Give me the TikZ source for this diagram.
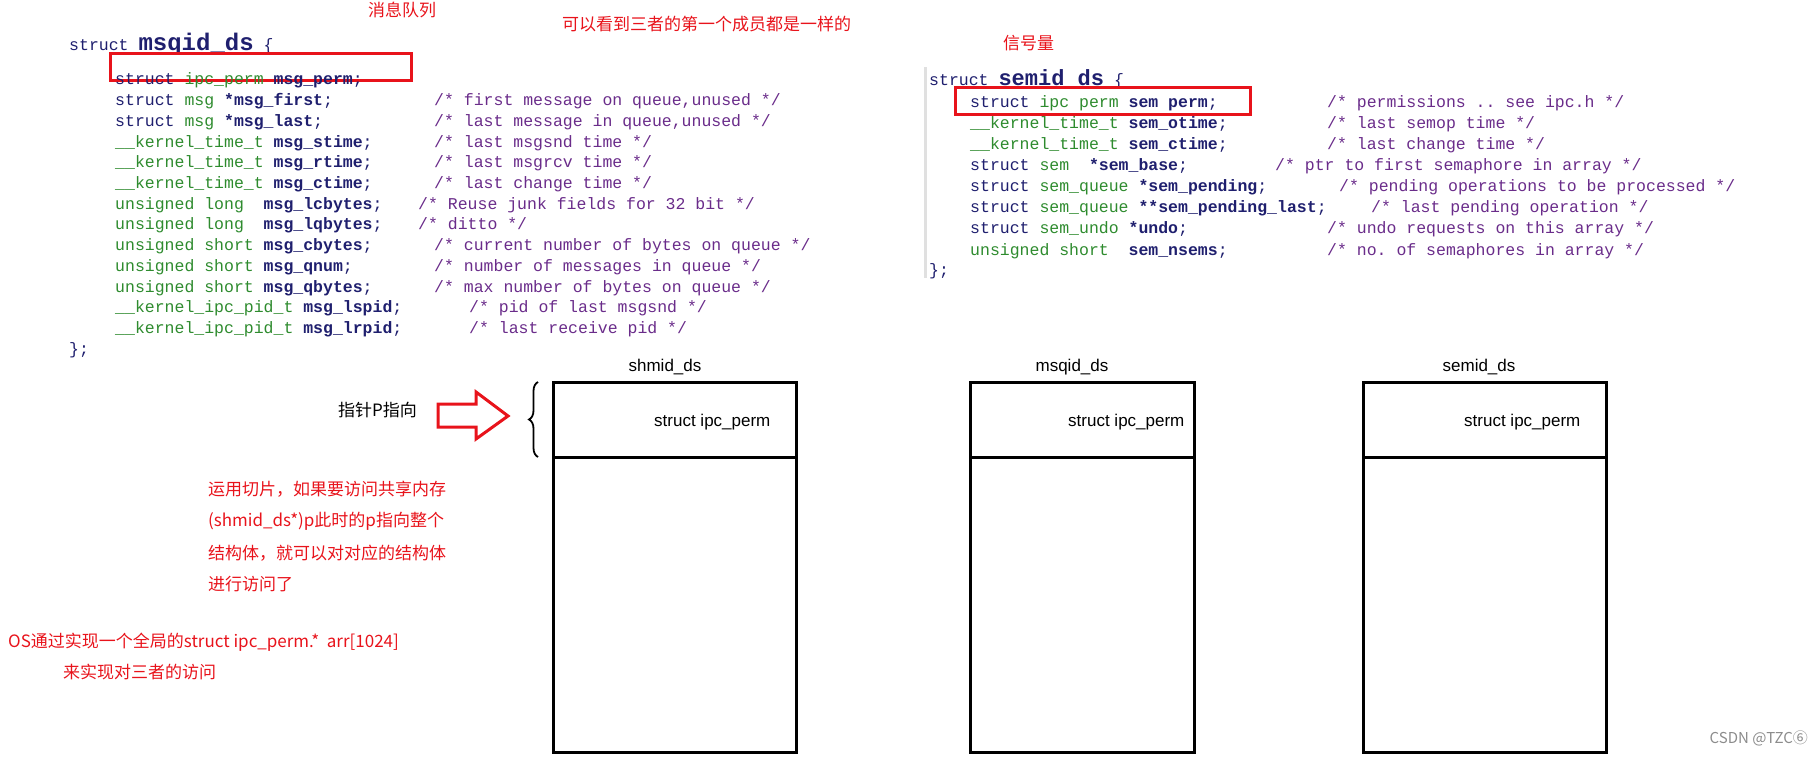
\documentclass[tikz,border=0pt]{standalone}
\usepackage{fontspec}
\setmainfont{Liberation Sans}
\setmonofont{Liberation Mono}
\newfontfamily\cjk{Noto Sans CJK SC}
\usetikzlibrary{decorations.pathreplacing}
\definecolor{kw}{HTML}{1F1F6E}
\definecolor{ty}{HTML}{2E8B2E}
\definecolor{cm}{HTML}{6A2C8A}
\definecolor{rd}{HTML}{E8131B}
\newcommand\K[1]{\textcolor{kw}{#1}}
\newcommand\T[1]{\textcolor{ty}{#1}}
\newcommand\N[1]{\textcolor{kw}{\bfseries #1}}
\begin{document}
\begin{tikzpicture}[x=1pt,y=-1pt,
  code/.style={anchor=base west,inner sep=0pt,font=\ttfamily\fontsize{16.5}{18}\selectfont,text=kw},
  cmt/.style={code,text=cm},
  note/.style={anchor=west,inner sep=0pt,text=rd,font=\cjk\fontsize{17}{20}\selectfont},
  lbl/.style={inner sep=0pt,font=\fontsize{17}{20}\selectfont},
  box/.style={draw=black,line width=3pt},
  redbox/.style={draw=rd,line width=3pt}]
\useasboundingbox (0,0) rectangle (1814,759);
% titles
\node[note] (t1) at (368,10) {消息队列};
\node[note] (t2) at (562,24) {可以看到三者的第一个成员都是一样的};
\node[note] (t3) at (1003,43) {信号量};
% msqid_ds
\node[code] (mh) at (69,51) {\K{struct} {\fontsize{24}{26}\selectfont\bfseries msqid\_ds} \K{\{}};
\draw[redbox] (110,54) rectangle (411,81);
\foreach \i/\a/\c/\cx in {%
 0/{\K{struct} \T{ipc\_perm} \N{msg\_perm};}/{}/434,
 1/{\K{struct} \T{msg} \N{*msg\_first};}/{/* first message on queue,unused  */}/434,
 2/{\K{struct} \T{msg} \N{*msg\_last};}/{/* last message in queue,unused */}/434,
 3/{\T{\_\_kernel\_time\_t} \N{msg\_stime};}/{/* last msgsnd time */}/434,
 4/{\T{\_\_kernel\_time\_t} \N{msg\_rtime};}/{/* last msgrcv time */}/434,
 5/{\T{\_\_kernel\_time\_t} \N{msg\_ctime};}/{/* last change time */}/434,
 6/{\T{unsigned long}\ \ \N{msg\_lcbytes};}/{/* Reuse junk fields for 32 bit */}/418,
 7/{\T{unsigned long}\ \ \N{msg\_lqbytes};}/{/* ditto */}/418,
 8/{\T{unsigned short} \N{msg\_cbytes};}/{/* current number of bytes on queue */}/434,
 9/{\T{unsigned short} \N{msg\_qnum};}/{/* number of messages in queue */}/434,
 10/{\T{unsigned short} \N{msg\_qbytes};}/{/* max number of bytes on queue */}/434,
 11/{\T{\_\_kernel\_ipc\_pid\_t} \N{msg\_lspid};}/{/* pid of last msgsnd */}/469,
 12/{\T{\_\_kernel\_ipc\_pid\_t} \N{msg\_lrpid};}/{/* last receive pid */}/469}{
  \node[code] (ma\i) at (115,{85+20.7*\i}) {\a};
  \node[cmt] (mc\i) at (\cx,{85+20.7*\i}) {\c};
}
\node[code] (me) at (69,354) {\K{\};}};
% semid_ds
\fill[black!12] (924,67) rectangle (927,278);
\node[code] (sh) at (929,86) {\K{struct} {\fontsize{22}{24}\selectfont\bfseries semid ds} \K{\{}};
\draw[redbox] (955,88) rectangle (1250,115);
\foreach \i/\a/\c/\cx in {%
 0/{\K{struct} \T{ipc perm} \N{sem perm};}/{/* permissions .. see ipc.h */}/1327,
 1/{\T{\_\_kernel\_time\_t} \N{sem\_otime};}/{/* last semop time */}/1327,
 2/{\T{\_\_kernel\_time\_t} \N{sem\_ctime};}/{/* last change time */}/1327,
 3/{\K{struct} \T{sem}\ \ \N{*sem\_base};}/{/* ptr to first semaphore in array */}/1275,
 4/{\K{struct} \T{sem\_queue} \N{*sem\_pending};}/{/* pending operations to be processed */}/1339,
 5/{\K{struct} \T{sem\_queue} \N{**sem\_pending\_last};}/{/* last pending operation */}/1371,
 6/{\K{struct} \T{sem\_undo} \N{*undo};}/{/* undo requests on this array */}/1327,
 7/{\T{unsigned short}\ \ \N{sem\_nsems};}/{/* no. of semaphores in array */}/1327}{
  \node[code] (sa\i) at (970,{108+21*\i}) {\a};
  \node[cmt] (sc\i) at (\cx,{108+21*\i}) {\c};
}
\node[code] (se) at (929,276) {\K{\};}};
% boxes
\foreach \n/\l/\r/\tx/\px in {b1/553/796/665/654, b2/970/1194/1072/1068, b3/1363/1606/1479/1464}{
  \draw[box] (\l,382) rectangle (\r,752);
  \draw[box] (\l,457) -- (\r,457);
  \node[lbl,anchor=west] (\n p) at (\px,422) {struct ipc\_perm};
}
\node[lbl] (n1) at (665,367) {shmid\_ds};
\node[lbl] (n2) at (1072,367) {msqid\_ds};
\node[lbl] (n3) at (1479,367) {semid\_ds};
% pointer
\node[anchor=west,inner sep=0pt,font=\cjk\fontsize{17}{20}\selectfont] (ptr) at (338,410) {指针P指向};
\draw[draw=rd,line width=3pt,line join=miter] (438,404) -- (476,404) -- (476,392) -- (508,416) -- (476,439) -- (476,427) -- (438,427) -- cycle;
\coordinate (bb) at (538,457);
\coordinate (bt) at (538,382);
\draw[line width=1.8pt,decorate,decoration={brace,amplitude=9pt}] (bb) -- (bt);
% notes
\node[note] (r1) at (208,489) {运用切片，如果要访问共享内存};
\node[note] (r2) at (208,521) {(shmid\_ds*)p此时的p指向整个};
\node[note] (r3) at (208,553) {结构体，就可以对对应的结构体};
\node[note] (r4) at (208,584) {进行访问了};
\node[note] (r5) at (8,642) {OS通过实现一个全局的struct ipc\_perm.*\ \ arr[1024]};
\node[note] (r6) at (63,672) {来实现对三者的访问};
\node[anchor=east,inner sep=0pt,text=black!45,font=\cjk\fontsize{15}{18}\selectfont] (wm) at (1808,738) {CSDN @TZC⑥};
\end{tikzpicture}
\end{document}
